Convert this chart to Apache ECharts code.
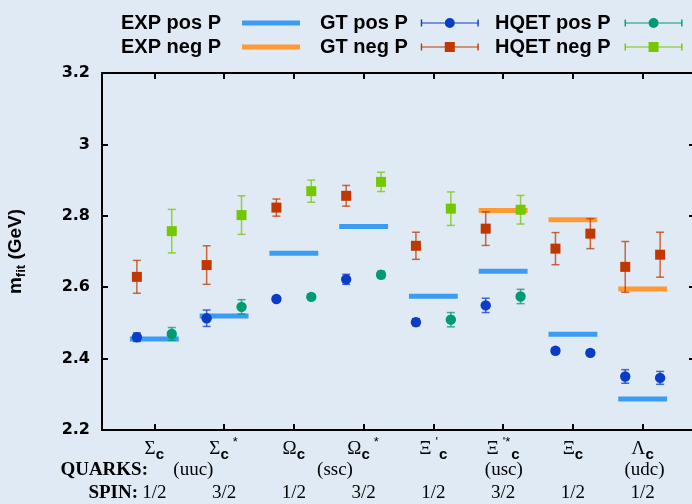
<!DOCTYPE html>
<html>
<head>
<meta charset="utf-8">
<script src="https://cdn.jsdelivr.net/npm/echarts@6/dist/echarts.min.js"></script>
<style>
  html, body { margin: 0; padding: 0; background: #e0eaf4; }
  #chart { width: 692px; height: 504px; }
</style>
</head>
<body>
<div id="chart"></div>
<script>
// ---- baryon groups along the x axis ----
const groupCenters = [1.5, 3.5, 5.5, 7.5, 9.5, 11.5, 13.5, 15.5];
const groupLabels = ['Σ_c', 'Σ_c^*', 'Ω_c', 'Ω_c^*', "Ξ^'_c", "Ξ^'*_c", 'Ξ_c', 'Λ_c'];
const spinLabels = ['1/2', '3/2', '1/2', '3/2', '1/2', '3/2', '1/2', '1/2'];
const quarkPos = [2.62, 6.68, 11.52, 15.55];
const quarkLabels = ['(uuc)', '(ssc)', '(usc)', '(udc)'];

// ---- experiment (horizontal bars) ----
const expPosX = [1.5, 3.5, 5.5, 7.5, 9.5, 11.5, 13.5, 15.5];
const expPosVal = [2.455, 2.519, 2.695, 2.770, 2.575, 2.645, 2.468, 2.287];
const expNegX = [11.5, 13.5, 15.5];
const expNegVal = [2.815, 2.789, 2.595];

// ---- GT fits ----
const gtX = [1, 3, 5, 7, 9, 11, 13, 14, 15, 16];
const gtPosVal = [2.460, 2.513, 2.567, 2.622, 2.502, 2.549, 2.422, 2.416, 2.350, 2.346];
const gtPosErr = [0.012, 0.023, 0.006, 0.014, 0.010, 0.020, 0.008, 0.008, 0.019, 0.018];
const gtNegVal = [2.629, 2.662, 2.823, 2.856, 2.716, 2.764, 2.708, 2.750, 2.657, 2.691];
const gtNegErr = [0.046, 0.054, 0.024, 0.029, 0.038, 0.047, 0.045, 0.042, 0.071, 0.063];

// ---- HQET fits ----
const hqetX = [2, 4, 6, 8, 10, 12];
const hqetPosVal = [2.469, 2.545, 2.573, 2.635, 2.509, 2.574];
const hqetPosErr = [0.018, 0.020, 0.008, 0.010, 0.020, 0.020];
const hqetNegVal = [2.757, 2.802, 2.869, 2.895, 2.820, 2.817];
const hqetNegErr = [0.061, 0.054, 0.031, 0.027, 0.047, 0.040];

const C_EXP_POS = '#3b9cf4';
const C_EXP_NEG = '#ff9933';
const C_GT_POS = '#0a3cc6';
const C_GT_NEG = '#c03800';
const C_HQ_POS = '#009b72';
const C_HQ_NEG = '#73c800';
const FRAME = { color: '#000', width: 2 };

// legend icons, drawn in a 58x10 box
const ICON_CIRCLE = 'path://M0,4.4H24V5.6H0Z M34,4.4H58V5.6H34Z M0,1.5H1.4V8.5H0Z M56.6,1.5H58V8.5H56.6Z M24,5A5,5 0 1,1 34,5A5,5 0 1,1 24,5Z';
const ICON_SQUARE = 'path://M0,4.4H24V5.6H0Z M34,4.4H58V5.6H34Z M0,1.5H1.4V8.5H0Z M56.6,1.5H58V8.5H56.6Z M24,0H34V10H24Z';

function richName(s) {
  const m = s.match(/^([^_^]+)(.*)$/);
  let out = `{g|${m[1]}}`;
  m[2].replace(/([_^])([^_^]+)/g, (all, k, t) => {
    out += k === '_' ? `{sub|${t}}` : `{sup|${t}}`;
    return all;
  });
  return out;
}

function expSeries(name, xs, vals, color) {
  return {
    type: 'custom',
    name,
    itemStyle: { color },
    data: xs.map((x, i) => [x, vals[i]]),
    z: 1,
    renderItem: (params, api) => {
      const a = api.coord([api.value(0) - 0.7, api.value(1)]);
      const b = api.coord([api.value(0) + 0.7, api.value(1)]);
      return {
        type: 'line',
        shape: { x1: a[0], y1: a[1], x2: b[0], y2: b[1] },
        style: { stroke: color, lineWidth: 5 },
      };
    },
  };
}

function fitSeries(name, xs, vals, errs, color, square) {
  return {
    type: 'custom',
    name,
    itemStyle: { color },
    data: xs.map((x, i) => [x, vals[i], errs[i]]),
    z: 2,
    renderItem: (params, api) => {
      const x = api.value(0), y = api.value(1), e = api.value(2);
      const top = api.coord([x, y + e]);
      const bot = api.coord([x, y - e]);
      const c = api.coord([x, y]);
      const cap = 4;
      const bar = { stroke: color, lineWidth: 1.5, opacity: 0.75 };
      const mark = square
        ? { type: 'rect', shape: { x: c[0] - 5, y: c[1] - 5, width: 10, height: 10 }, style: { fill: color } }
        : { type: 'circle', shape: { cx: c[0], cy: c[1], r: 5.2 }, style: { fill: color } };
      return {
        type: 'group',
        children: [
          { type: 'line', shape: { x1: top[0], y1: top[1], x2: bot[0], y2: bot[1] }, style: bar },
          { type: 'line', shape: { x1: top[0] - cap, y1: top[1], x2: top[0] + cap, y2: top[1] }, style: bar },
          { type: 'line', shape: { x1: bot[0] - cap, y1: bot[1], x2: bot[0] + cap, y2: bot[1] }, style: bar },
          mark,
        ],
      };
    },
  };
}

const legendText = (padRight) => ({
  fontFamily: 'Liberation Sans',
  fontWeight: 'bold',
  fontSize: 20,
  color: '#000',
  lineHeight: 24,
  padding: [0, padRight, 0, 0],
});

const chart = echarts.init(document.getElementById('chart'), null, { renderer: 'canvas' });

chart.setOption({
  backgroundColor: '#e0eaf4',
  animation: false,
  grid: { left: 102, top: 73, width: 593, height: 357, containLabel: false, outerBoundsMode: 'none' },
  legend: [
    {
      data: ['EXP pos P', 'EXP neg P'],
      orient: 'vertical', align: 'right', left: 121, top: 11, padding: 0, itemGap: 0,
      itemWidth: 58, itemHeight: 5, icon: 'rect',
      textStyle: legendText(16),
    },
    {
      data: [{ name: 'GT pos P', icon: ICON_CIRCLE }, { name: 'GT neg P', icon: ICON_SQUARE }],
      orient: 'vertical', align: 'right', left: 320, top: 11, padding: 0, itemGap: 0,
      itemWidth: 58, itemHeight: 10,
      textStyle: legendText(8),
    },
    {
      data: [{ name: 'HQET pos P', icon: ICON_CIRCLE }, { name: 'HQET neg P', icon: ICON_SQUARE }],
      orient: 'vertical', align: 'right', left: 495, top: 11, padding: 0, itemGap: 0,
      itemWidth: 58, itemHeight: 10,
      textStyle: legendText(9),
    },
  ],
  xAxis: [
    {
      type: 'value', position: 'bottom', min: 0, max: 17,
      axisLine: { onZero: false, lineStyle: FRAME },
      axisTick: { inside: true, length: 6, customValues: groupCenters, lineStyle: FRAME },
      splitLine: { show: false },
      axisLabel: {
        customValues: groupCenters,
        margin: 6,
        formatter: (v) => {
          const i = groupCenters.findIndex(c => Math.abs(c - v) < 1e-6);
          return richName(groupLabels[i]) + '\n{q| }\n{sp|' + spinLabels[i] + '}';
        },
        rich: {
          g: { fontFamily: 'Liberation Serif', fontSize: 19, color: '#000', lineHeight: 26, verticalAlign: 'middle' },
          sub: { fontFamily: 'Liberation Sans', fontWeight: 'bold', fontSize: 15, color: '#000', lineHeight: 26, verticalAlign: 'bottom' },
          sup: { fontFamily: 'Liberation Sans', fontSize: 13, color: '#000', lineHeight: 26, verticalAlign: 'top', padding: [0, 1, 0, 4] },
          q: { fontSize: 12, lineHeight: 20 },
          sp: { fontFamily: 'Liberation Serif', fontSize: 19, color: '#000', lineHeight: 22 },
        },
      },
    },
    {
      type: 'value', position: 'bottom', min: 0, max: 17,
      axisLine: { show: false },
      axisTick: { show: false },
      splitLine: { show: false },
      axisLabel: {
        customValues: quarkPos,
        margin: 30,
        fontFamily: 'Liberation Serif', fontSize: 19, color: '#000', lineHeight: 20,
        formatter: (v) => quarkLabels[quarkPos.findIndex(c => Math.abs(c - v) < 1e-6)],
      },
    },
    {
      type: 'value', position: 'top', min: 0, max: 17,
      axisLine: { onZero: false, lineStyle: FRAME },
      axisTick: { inside: true, length: 6, customValues: groupCenters, lineStyle: FRAME },
      axisLabel: { show: false },
      splitLine: { show: false },
    },
  ],
  yAxis: [
    {
      type: 'value', position: 'left', min: 2.2, max: 3.2, interval: 0.2,
      axisLine: { show: true, onZero: false, lineStyle: FRAME },
      axisTick: { show: true, inside: true, length: 6, lineStyle: FRAME },
      splitLine: { show: false },
      axisLabel: { margin: 12, fontFamily: 'DejaVu Sans', fontWeight: 'bold', fontSize: 16, color: '#000' },
      name: '{m|m}{f|fit}{m| (GeV)}',
      nameLocation: 'middle',
      nameGap: 74,
      nameTextStyle: {
        rich: {
          m: { fontFamily: 'Liberation Sans', fontWeight: 'bold', fontSize: 19, color: '#000', lineHeight: 24 },
          f: { fontFamily: 'Liberation Sans', fontWeight: 'bold', fontSize: 13, color: '#000', lineHeight: 24, verticalAlign: 'bottom' },
        },
      },
    },
    {
      type: 'value', position: 'right', min: 2.2, max: 3.2, interval: 0.2,
      axisLine: { show: true, onZero: false, lineStyle: FRAME },
      axisTick: { show: true, inside: true, length: 6, lineStyle: FRAME },
      axisLabel: { show: false },
      splitLine: { show: false },
    },
  ],
  graphic: [
    { type: 'text', left: null, x: 148, y: 470, style: { text: 'QUARKS:', align: 'right', verticalAlign: 'middle', font: 'bold 19px "Liberation Serif"', fill: '#000' } },
    { type: 'text', x: 138, y: 493, style: { text: 'SPIN:', align: 'right', verticalAlign: 'middle', font: 'bold 19px "Liberation Serif"', fill: '#000' } },
  ],
  series: [
    expSeries('EXP pos P', expPosX, expPosVal, C_EXP_POS),
    expSeries('EXP neg P', expNegX, expNegVal, C_EXP_NEG),
    fitSeries('GT pos P', gtX, gtPosVal, gtPosErr, C_GT_POS, false),
    fitSeries('GT neg P', gtX, gtNegVal, gtNegErr, C_GT_NEG, true),
    fitSeries('HQET pos P', hqetX, hqetPosVal, hqetPosErr, C_HQ_POS, false),
    fitSeries('HQET neg P', hqetX, hqetNegVal, hqetNegErr, C_HQ_NEG, true),
  ],
});
</script>
</body>
</html>
